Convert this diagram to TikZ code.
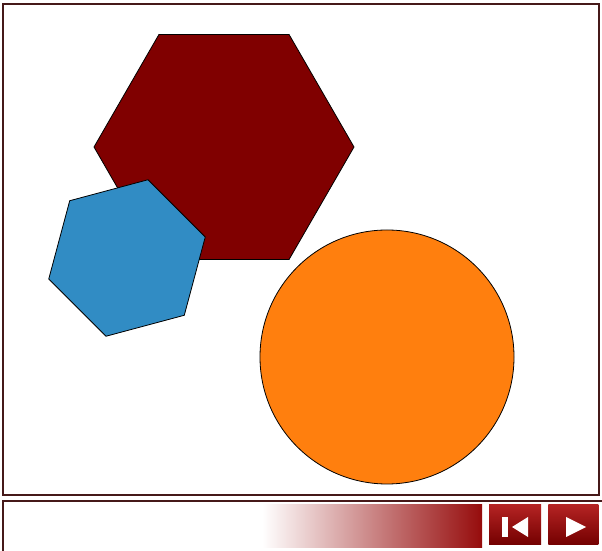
\documentclass[tikz,border=0pt]{standalone}
\usepackage{tikz}
\usetikzlibrary{shapes,positioning}
\usepackage{xcolor}
\definecolor{maroonhex}{RGB}{128,0,0}
\definecolor{bluehex}{RGB}{49,140,196}
\definecolor{orangedisc}{RGB}{255,127,14}
\definecolor{framebrown}{RGB}{70,25,25}
\definecolor{barred}{RGB}{150,12,12}
\definecolor{btntop}{RGB}{180,35,35}
\definecolor{btnbottom}{RGB}{115,0,0}

\tikzset{
    shapeline/.style={draw=black, line width=0.8pt, line join=round},
    framebox/.style={draw=framebrown, line width=2.5pt},
    playbtn/.style={top color=btntop, bottom color=btnbottom, draw=none},
    btnicon/.style={fill=white, draw=none}
}

\begin{document}
\begin{tikzpicture}[x=1pt, y=1pt]
    \useasboundingbox (0,0) rectangle (602,551);
    \fill[white] (0,0) rectangle (602,551);

    % stage frame
    \draw[framebox] (3,547) rectangle (599,56);

    % shapes
    \coordinate (bighex) at (224,404);
    \coordinate (smallhex) at (127,293);
    \coordinate (disc) at (387,194);
    \draw[shapeline, fill=maroonhex, shift={(bighex)}]
        (0:130) -- (60:130) -- (120:130) -- (180:130) -- (240:130) -- (300:130) -- cycle;
    \draw[shapeline, fill=bluehex, shift={(smallhex)}]
        (15:81) -- (75:81) -- (135:81) -- (195:81) -- (255:81) -- (315:81) -- cycle;
    \draw[shapeline, fill=orangedisc] (disc) circle (127);

    % control bar
    \draw[framebox, line width=2pt] (3,0) -- (3,50) -- (602,50);
    \shade[left color=white, right color=barred] (262,3) rectangle (482,46);

    \node[playbtn, minimum width=52pt, minimum height=40pt, inner sep=0pt] (rewind) at (515,26) {};
    \node[playbtn, minimum width=50pt, minimum height=40pt, inner sep=0pt, right=7pt of rewind] (play) {};
    \fill[btnicon] (502,14) rectangle (508,34);
    \fill[btnicon] (512,24) -- (528,34) -- (528,14) -- cycle;
    \fill[btnicon] (586,24) -- (566,34) -- (566,14) -- cycle;
\end{tikzpicture}
\end{document}
